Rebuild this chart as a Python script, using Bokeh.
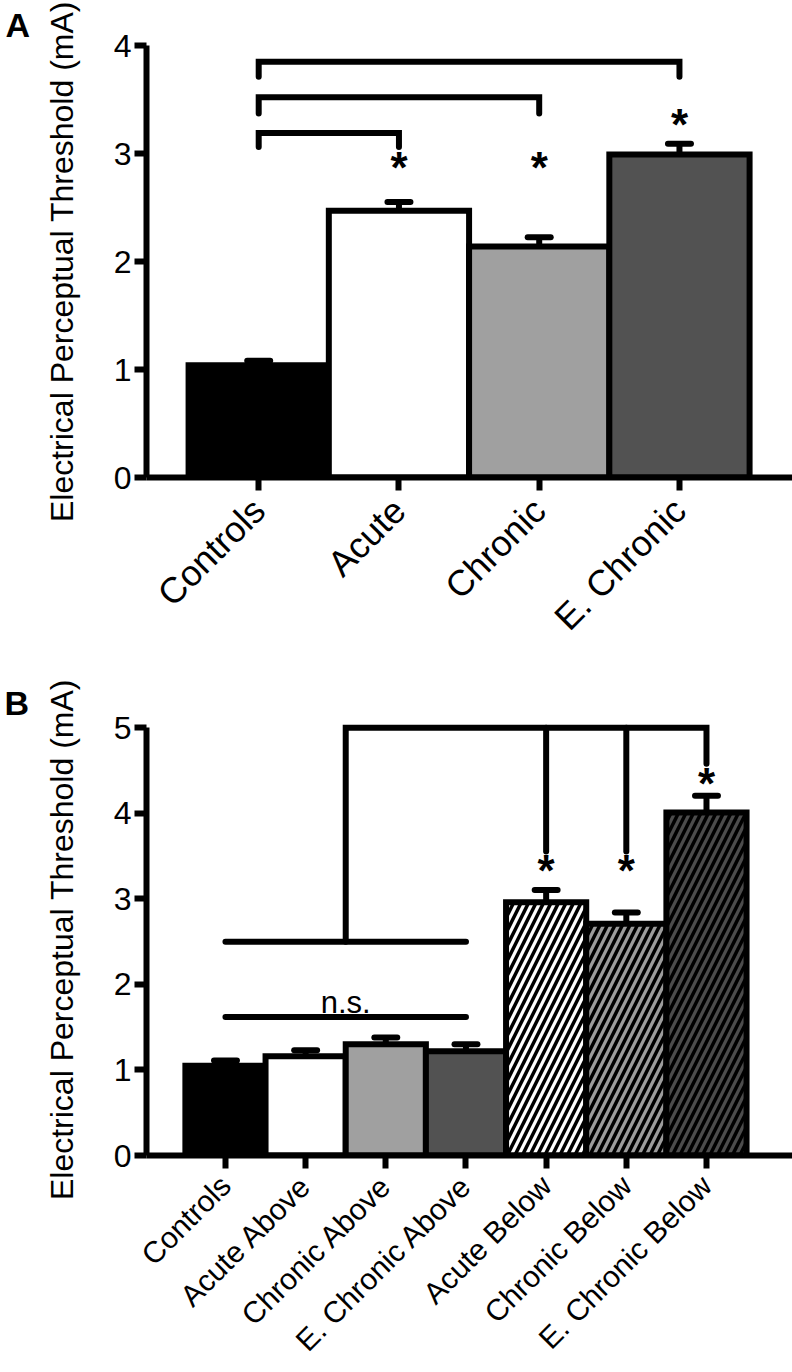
import math
from bokeh.plotting import figure
from bokeh.layouts import column
from bokeh.models import Range1d, FixedTicker, ColumnDataSource
from bokeh.embed import file_html
from bokeh.resources import INLINE
from bokeh.core.properties import value

FONT = "Liberation Sans"
YLABEL = "Electrical Perceptual Threshold (mA)"

# ---------------- Panel A data ----------------
a_categories = ["Controls", "Acute", "Chronic", "E. Chronic"]
a_means = [1.04, 2.47, 2.14, 2.99]
a_err_tops = [1.08, 2.55, 2.225, 3.09]
a_colors = ["#000000", "#ffffff", "#a0a0a0", "#525252"]
a_star_idx = [1, 2, 3]
a_star_y = [2.90, 2.90, 3.30]
# brackets: from index, to index, bar height, leg end height
a_br_from = [0, 0, 0]
a_br_to = [1, 2, 3]
a_br_top = [3.19, 3.52, 3.85]
a_br_leg = [3.06, 3.37, 3.71]
a_yticks = [0, 1, 2, 3, 4]

# ---------------- Panel B data ----------------
b_categories = ["Controls", "Acute Above", "Chronic Above", "E. Chronic Above",
                "Acute Below", "Chronic Below", "E. Chronic Below"]
b_means = [1.05, 1.16, 1.30, 1.22, 2.96, 2.71, 4.01]
b_err_tops = [1.11, 1.23, 1.38, 1.30, 3.105, 2.84, 4.205]
b_colors = ["#000000", "#ffffff", "#a0a0a0", "#525252", "#ffffff", "#9c9c9c", "#4c4c4c"]
b_hatch = [" ", " ", " ", " ", "/", "/", "/"]
b_star_idx = [4, 5, 6]
b_star_y = [3.37, 3.37, 4.38]
b_ns_line = (0, 3, 1.62)
b_ns_text = (1.5, 1.73, "n.s.")
b_group_line = (0, 3, 2.5)
b_top_line = (1.5, 6, 5.0)
b_leg_idx = [4, 5, 6]
b_leg_end = [3.555, 3.555, 4.58]
b_yticks = [0, 1, 2, 3, 4, 5]


def style(p, cat_size, cat_standoff, letter, letter_offset, letter_standoff, letter_valign):
    p.outline_line_color = None
    p.xgrid.visible = False
    p.ygrid.visible = False
    p.background_fill_color = "white"
    p.border_fill_color = "white"
    for ax in (p.xaxis[0], p.yaxis[0]):
        ax.axis_line_width = 6
        ax.axis_line_color = "black"
        ax.major_tick_line_width = 6
        ax.major_tick_line_color = "black"
        ax.major_tick_in = 0
        ax.minor_tick_line_color = None
        ax.major_label_text_font = FONT
        ax.major_label_text_color = "black"
    p.yaxis.major_tick_out = 12
    p.yaxis.major_label_standoff = 3
    p.yaxis.major_label_text_font_size = "32px"
    p.yaxis.axis_label = YLABEL
    p.yaxis.axis_label_text_font = FONT
    p.yaxis.axis_label_text_font_size = "32px"
    p.yaxis.axis_label_text_font_style = "normal"
    p.yaxis.axis_label_text_color = "black"
    p.yaxis.axis_label_standoff = 31
    p.xaxis.major_tick_out = 13
    p.xaxis.major_label_standoff = cat_standoff
    p.xaxis.major_label_text_font_size = cat_size
    p.xaxis.major_label_orientation = math.pi / 4
    p.title.text = letter
    p.title.align = "left"
    p.title.offset = letter_offset
    p.title.text_font = FONT
    p.title.text_font_size = "34px"
    p.title.text_font_style = "bold"
    p.title.text_color = "black"
    p.title.standoff = letter_standoff
    p.title.vertical_align = letter_valign


def bars(p, cats, means, errs, colors, hatch, cap_hw):
    n = len(cats)
    xs = list(range(n))
    src = ColumnDataSource(dict(x=xs, top=means, color=colors, hatch=hatch))
    p.vbar(x="x", top="top", bottom=0, width=1.0, fill_color="color",
           line_color="black", line_width=6, line_join="miter",
           hatch_pattern="hatch", hatch_color="black", hatch_weight=3.5,
           hatch_scale=15, source=src)
    p.segment(x0=xs, y0=means, x1=xs, y1=errs, line_color="black", line_width=6)
    p.segment(x0=[x - cap_hw for x in xs], y0=errs, x1=[x + cap_hw for x in xs], y1=errs,
              line_color="black", line_width=6, line_cap="round")
    p.xaxis.ticker = FixedTicker(ticks=xs)
    p.xaxis.major_label_overrides = {i: c for i, c in enumerate(cats)}


def stars(p, idx, ys):
    p.text(x=idx, y=ys, text=["*"] * len(idx), text_font=value(FONT),
           text_font_size="44px", text_font_style="bold", text_align="center",
           text_baseline="alphabetic", y_offset=3, text_color="black")


# ---------------- Figure A ----------------
pA = figure(width=792, height=660, output_backend="svg", toolbar_location=None,
            x_range=Range1d(-0.80, 3.806), y_range=Range1d(0, 4),
            min_border_left=143, min_border_right=0, min_border_top=45,
            min_border_bottom=183)
style(pA, "36px", 14, "A", -141, 0, "top")
pA.yaxis.ticker = FixedTicker(ticks=a_yticks)
bars(pA, a_categories, a_means, a_err_tops, a_colors, [" "] * 4, 0.082)
stars(pA, a_star_idx, a_star_y)
xs_br, ys_br = [], []
for f, t, top, leg in zip(a_br_from, a_br_to, a_br_top, a_br_leg):
    xs_br.append([f, f, t, t])
    ys_br.append([leg, top, top, leg])
pA.multi_line(xs=xs_br, ys=ys_br, line_color="black", line_width=6,
              line_cap="round", line_join="miter")

# ---------------- Figure B ----------------
pB = figure(width=792, height=712, output_backend="svg", toolbar_location=None,
            x_range=Range1d(-0.985, 7.073), y_range=Range1d(0, 5.05),
            min_border_left=146, min_border_right=0, min_border_top=63,
            min_border_bottom=217)
style(pB, "30px", 12, "B", -142, 3, "bottom")
pB.yaxis.ticker = FixedTicker(ticks=b_yticks)
pB.yaxis.bounds = (0, 5)
bars(pB, b_categories, b_means, b_err_tops, b_colors, b_hatch, 0.143)
stars(pB, b_star_idx, b_star_y)
pB.segment(x0=[b_ns_line[0], b_group_line[0]], y0=[b_ns_line[2], b_group_line[2]],
           x1=[b_ns_line[1], b_group_line[1]], y1=[b_ns_line[2], b_group_line[2]],
           line_color="black", line_width=6, line_cap="round")
pB.multi_line(xs=[[b_top_line[0], b_top_line[0], b_top_line[1], b_top_line[1]]],
              ys=[[b_group_line[2], b_top_line[2], b_top_line[2], b_leg_end[2]]],
              line_color="black", line_width=6, line_cap="round", line_join="miter")
pB.segment(x0=b_leg_idx[:2], y0=[b_top_line[2]] * 2, x1=b_leg_idx[:2], y1=b_leg_end[:2],
           line_color="black", line_width=6, line_cap="round")
pB.text(x=[b_ns_text[0]], y=[b_ns_text[1]], text=[b_ns_text[2]], text_font=value(FONT),
        text_font_size="31px", text_align="center", text_baseline="alphabetic",
        y_offset=-5, text_color="black")

layout = column(pA, pB, spacing=0)
open("out.html", "w").write(file_html(layout, INLINE))
